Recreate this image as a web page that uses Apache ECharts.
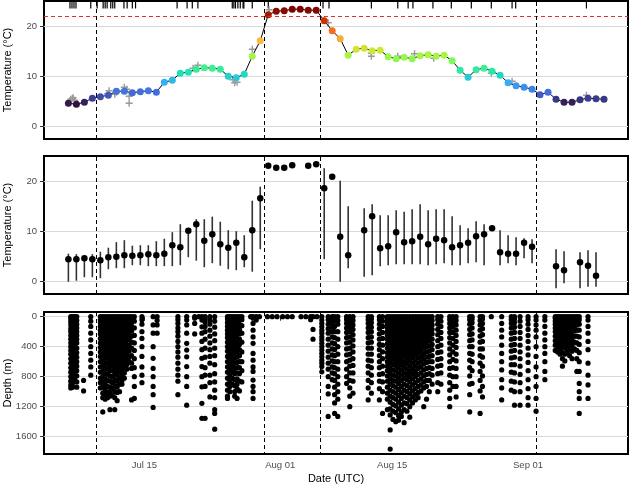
<!DOCTYPE html>
<html>
<head>
<meta charset="utf-8">
<script src="https://cdn.jsdelivr.net/npm/echarts@6/dist/echarts.min.js"></script>
<style>
html, body { margin: 0; padding: 0; background: #fff; }
#chart { width: 631px; height: 485px; }
</style>
</head>
<body>
<div id="chart"></div>
<script>
// all x values are days since Jul 01 00:00 UTC
var tickDays = [14, 31, 45, 62];
var tickLabels = ['Jul 15', 'Aug 01', 'Aug 15', 'Sep 01'];
var eventDays = [8, 29, 36, 63];
var thresholdTemp = 22;
var tempTicks = [0, 10, 20];
var depthTicks = [0, 400, 800, 1200, 1600];

// top panel: smoothed daily temperature
var dailyDays = [4.5, 5.5, 6.5, 7.5, 8.5, 9.5, 10.5, 11.5, 12.5, 13.5, 14.5, 15.5, 16.5, 17.5, 18.5, 19.5, 20.5,
  21.5, 22.5, 23.5, 24.5, 25.5, 26.5, 27.5, 28.5, 29.5, 30.5, 31.5, 32.5, 33.5, 34.5, 35.5, 36.5, 37.5, 38.5,
  39.5, 40.5, 41.5, 42.5, 43.5, 44.5, 45.5, 46.5, 47.5, 48.5, 49.5, 50.5, 51.5, 52.5, 53.5, 54.5, 55.5, 56.5,
  57.5, 58.5, 59.5, 60.5, 61.5, 62.5, 63.5, 64.5, 65.5, 66.5, 67.5, 68.5, 69.5, 70.5, 71.5];
var dailyTemp = [4.7, 4.5, 4.9, 5.7, 6.0, 6.3, 7.1, 7.1, 6.8, 7.0, 7.2, 6.9, 8.9, 9.3, 10.7, 10.9, 11.5,
  11.8, 11.7, 11.5, 10.1, 9.8, 10.5, 14.1, 17.2, 22.4, 23.1, 23.2, 23.5, 23.5, 23.3, 23.3, 21.2, 19.2, 17.6,
  14.3, 15.5, 15.7, 15.2, 15.3, 14.0, 13.6, 13.9, 13.6, 14.2, 14.4, 14.1, 14.3, 13.2, 11.3, 9.9, 11.4, 11.7,
  11.1, 10.3, 8.8, 8.2, 7.9, 7.5, 6.4, 6.9, 5.5, 4.9, 4.9, 5.4, 5.7, 5.6, 5.5];

// top panel: raw observations (grey crosses)
var obsDays = [4.8, 5.0, 5.1, 5.3, 9.4, 9.6, 10.3, 10.5, 11.5, 11.8, 12.1, 12.1, 20.1, 20.7, 25.1, 25.3,
  25.4, 25.6, 27.5, 29.6, 36.5, 37.0, 42.4, 42.4, 45.7, 47.8, 50.2, 57.4, 60.0, 69.3];
var obsTemp = [5.5, 5.7, 5.8, 5.3, 6.6, 7.2, 6.5, 6.9, 7.9, 7.5, 6.1, 4.7, 11.7, 12.3, 9.4, 8.8,
  9.7, 8.9, 15.5, 23.4, 21.3, 20.8, 14.7, 14.1, 14.1, 14.6, 13.7, 10.7, 9.1, 6.3];

// top panel: rug of surface fixes
var rugDays = [4.7, 4.95, 5.2, 5.45, 7.3, 8.1, 8.85, 9.1, 9.35, 9.8, 10.05, 10.3, 11.45, 11.85, 12.5, 12.9,
  18.1, 19.35, 20.0, 20.7, 25.0, 25.2, 25.4, 25.7, 26.0, 26.35, 26.45, 27.5, 29.5, 36.35, 37.1, 42.4,
  45.7, 47.0, 47.6, 50.1, 52.4, 54.9, 57.4, 60.0, 60.45, 69.3];

// middle panel: daily mean temperature and range
var meanDays = [4.5, 5.5, 6.5, 7.5, 8.5, 9.5, 10.5, 11.5, 12.5, 13.5, 14.5, 15.5, 16.5, 17.5, 18.5, 19.5,
  20.5, 21.5, 22.5, 23.5, 24.5, 25.5, 26.5, 27.5, 28.5, 29.5, 30.5, 31.5, 32.5, 34.5, 35.5, 36.5, 37.5,
  38.5, 39.5, 41.5, 42.5, 43.5, 44.5, 45.5, 46.5, 47.5, 48.5, 49.5, 50.5, 51.5, 52.5, 53.5, 54.5, 55.5,
  56.5, 57.5, 58.5, 59.5, 60.5, 61.5, 62.5, 65.5, 66.5, 68.5, 69.5, 70.5];
var meanTemp = [4.5, 4.5, 4.7, 4.5, 4.3, 4.9, 5.0, 5.3, 5.2, 5.3, 5.5, 5.3, 5.6, 7.3, 6.9, 10.2,
  11.5, 8.2, 9.5, 7.5, 6.8, 7.8, 4.9, 10.3, 16.7, 23.2, 22.8, 22.8, 23.3, 23.2, 23.5, 18.7, 21.0,
  9.0, 5.3, 10.3, 13.1, 6.7, 7.1, 9.9, 7.9, 8.1, 9.0, 7.5, 8.6, 8.3, 6.9, 7.3, 7.8, 9.1,
  9.5, 10.7, 5.9, 5.6, 5.6, 7.8, 7.0, 3.1, 2.3, 3.9, 3.2, 1.2];
var minTemp = [0.0, 0.2, 0.9, 0.9, 0.7, 2.5, 2.7, 2.7, 3.3, 3.3, 3.1, 3.1, 3.1, 3.1, 3.3, 4.9,
  4.2, 2.9, 3.7, 3.2, 2.5, 2.3, 2.9, 2.0, 6.5, null, null, null, null, null, null, 4.5, null,
  0.0, 2.7, 1.0, 1.3, 3.1, 3.3, 3.5, 3.5, 3.5, 3.5, 3.3, 3.5, 3.7, 3.3, 3.3, 3.7, 3.9,
  3.3, null, 3.3, 3.7, 3.3, 4.7, 3.7, -1.3, -0.3, -1.3, -1.0, -1.0];
var maxTemp = [5.6, 5.5, 5.0, 5.5, 6.0, 6.8, 7.9, 8.3, 7.2, 7.3, 7.3, 8.1, 8.6, 9.9, 11.5, 10.5,
  12.5, 12.5, 13.0, 12.0, 10.3, 10.1, 9.3, 16.2, 19.0, null, null, null, null, null, null, 22.7, null,
  20.2, 15.1, 14.7, 15.5, 13.3, 13.3, 14.3, 14.0, 14.5, 15.5, 14.3, 14.5, 14.5, 13.1, 11.3, 10.7, 12.1,
  11.5, null, 10.3, 9.3, 8.9, 8.7, 8.5, 6.5, 6.1, 5.9, 6.3, 5.9];

// bottom panel: depth records, grouped by dive
var diveDays = [4.8, 5.05, 5.3, 5.55, 6.4, 7.3,
  8.5, 8.8, 9.1, 9.4, 9.7, 10.0, 10.3, 10.6, 10.9, 11.2, 11.5, 11.8, 12.1, 12.4, 12.75,
  13.7, 15.1, 15.6, 18.2, 19.3, 20.3, 20.8, 21.2, 21.6, 22.2, 22.8,
  24.4, 24.7, 25.0, 25.3, 25.6, 25.9, 26.2, 27.3, 27.6, 28.0, 28.4,
  29.4, 30.0, 30.6, 31.3, 31.9, 32.5, 33.6, 34.2, 34.8, 35.1, 35.6,
  36.2, 37.0, 37.5, 37.8, 38.2, 39.3, 39.7, 40.1, 42.0, 42.4, 43.4, 43.8,
  44.4, 44.75, 45.1, 45.45, 45.8, 46.15, 46.5, 46.85, 47.2, 47.55, 47.9, 48.25, 48.6, 48.95, 49.3, 49.65, 50.0,
  50.7, 51.1, 52.2, 52.6, 53.0, 54.7, 55.0, 56.0, 56.3, 57.4, 58.7, 59.9, 60.3, 61.0, 62.0, 63.0, 64.1,
  65.4, 65.7, 66.0, 66.3, 66.6, 66.9, 67.2, 67.5, 67.8, 68.1, 68.4, 69.5];
var diveDepths = [
  [0, 30, 70, 110, 160, 200, 250, 300, 350, 400, 450, 500, 560, 620, 680, 740, 800, 860, 910, 950],
  [0, 40, 90, 140, 190, 240, 290, 340, 390, 440, 490, 540, 600, 650, 700, 760, 820, 880, 940],
  [0, 20, 60, 100, 150, 200, 260, 320, 380, 440, 500, 560, 620, 680, 740, 800, 850],
  [0, 50, 100, 150, 200, 250, 300, 350, 420, 480, 540, 600, 660, 720, 790, 870, 940],
  [850, 990],
  [0, 60, 130, 220, 310, 400, 490, 580, 670, 780],
  [0, 40, 80, 130, 180, 230, 290, 350, 410, 470, 530, 600, 670, 740, 820, 880, 950],
  [0, 30, 70, 120, 170, 220, 280, 340, 400, 460, 520, 590, 660, 730, 800, 870, 940, 1020, 1080, 1270],
  [0, 50, 100, 150, 200, 250, 310, 370, 430, 490, 550, 620, 690, 760, 830, 900, 970, 1050, 1100],
  [0, 20, 60, 110, 160, 210, 260, 320, 380, 440, 500, 560, 630, 700, 770, 850, 930, 1010, 1080],
  [0, 40, 90, 140, 190, 240, 300, 360, 420, 480, 540, 600, 660, 720, 790, 860, 940, 1000, 1060, 1240],
  [0, 30, 80, 130, 180, 230, 280, 340, 400, 460, 520, 580, 650, 720, 800, 880, 960, 1050],
  [0, 50, 100, 150, 200, 260, 320, 380, 440, 500, 560, 620, 690, 760, 840, 920, 1000, 1080, 1240],
  [0, 20, 70, 120, 170, 220, 270, 330, 390, 450, 510, 570, 640, 710, 780, 860, 940, 1010, 1120],
  [0, 40, 90, 140, 190, 240, 290, 350, 410, 470, 530, 600, 670, 740, 820, 900, 1000],
  [0, 30, 80, 130, 180, 230, 280, 330, 390, 450, 510, 570, 640, 710, 780, 850, 900],
  [0, 50, 100, 150, 200, 250, 300, 360, 420, 480, 540, 610, 680, 750, 820],
  [0, 20, 60, 110, 160, 210, 260, 310, 370, 430, 500, 570, 640, 700],
  [0, 40, 90, 140, 190, 240, 300, 380, 460, 540, 600],
  [0, 30, 80, 130, 190, 260, 340, 420, 520, 620, 690, 1110],
  [0, 60, 150, 250, 350, 450, 560, 680, 800, 930, 1090],
  [0, 40, 100, 200, 290, 400, 530, 670, 780, 880],
  [0, 110, 220, 400, 555, 690, 800, 930, 1040, 1210],
  [0, 50, 110, 220],
  [0, 40, 90, 150, 200, 260, 330, 400, 470, 540, 620, 700, 780, 860, 1040],
  [0, 45, 110, 220, 355, 445, 535, 665, 800, 930, 1180],
  [0, 20, 90, 230],
  [0],
  [0, 45, 135, 220, 330, 440, 555, 665, 800, 935, 1155, 1355],
  [0, 30, 70, 130, 200, 300, 420, 540, 680, 780, 930, 1355],
  [0, 45, 100, 180, 260, 350, 440, 530, 620, 780, 880, 1070],
  [0, 60, 140, 230, 320, 420, 520, 640, 760, 870, 980, 1080, 1240, 1290, 1500],
  [0, 30, 80, 130, 180, 230, 280, 340, 400, 460, 530, 600, 670, 740, 820, 900, 980, 1060, 1090],
  [0, 50, 100, 150, 200, 250, 310, 370, 430, 490, 560, 630, 700, 770, 850, 930, 1000],
  [0, 20, 70, 120, 170, 220, 270, 330, 390, 450, 520, 590, 660, 740, 820, 900],
  [0, 40, 90, 140, 190, 240, 300, 360, 420, 480, 550, 620, 690, 760, 840, 920, 1000, 1060],
  [0, 30, 80, 130, 180, 230, 290, 350, 410, 470, 540, 610, 680, 750, 830, 900, 960, 1090],
  [0, 50, 110, 170, 230, 300, 370, 440, 520, 600, 680, 760, 860, 990],
  [0, 40, 120, 220, 340, 470, 600, 720, 870],
  [0],
  [0, 20, 90, 180, 270, 355, 490, 580, 670, 730, 845, 930, 1000, 1090],
  [0, 45],
  [0],
  [0], [0], [0], [0], [0], [0], [0], [0], [0, 40], [0, 170, 300], [0],
  [0, 45, 90, 135, 180, 220, 270, 310, 355, 400, 445, 490, 535, 580, 620, 665, 735],
  [0, 40, 100, 160, 220, 300, 380, 460, 540, 620, 700, 800, 930, 1030, 1330],
  [0, 30, 80, 140, 200, 270, 350, 430, 510, 590, 670, 750, 840],
  [0, 60, 130, 200, 280, 360, 440, 520, 600, 680, 760, 850, 940, 1040, 1150, 1290],
  [0, 50, 100, 200, 300, 400, 500, 600, 700, 800, 900, 1000, 1100, 1330],
  [0, 40, 90, 150, 210, 280, 350, 430, 510, 600, 700, 800, 890],
  [0, 30, 80, 140, 200, 270, 340, 420, 500, 580, 660, 750, 850, 950, 1060, 1200],
  [0, 50, 110, 170, 240, 310, 390, 470, 560, 650, 750, 860, 1020],
  [0, 40, 90, 150, 210, 280, 350, 420, 500, 580, 660, 750, 850, 950, 1110],
  [0, 30, 80, 140, 200, 270, 340, 420, 500, 590, 680, 780, 880, 1020],
  [0, 40, 100, 160, 230, 300, 370, 440, 520, 600, 680, 770, 860, 960, 1110],
  [0, 60, 130, 210, 290, 380, 470, 560, 660, 760, 870, 1000, 1290],
  [0, 20, 60, 100, 150, 200, 250, 300, 360, 420, 480, 540, 600, 660, 720, 790, 860, 940, 1020, 1100, 1240],
  [0, 30, 70, 110, 160, 210, 260, 320, 380, 440, 500, 560, 620, 690, 760, 830, 900, 980, 1060, 1140, 1230, 1310, 1510, 1765],
  [0, 40, 80, 120, 170, 220, 270, 330, 390, 450, 510, 570, 640, 710, 780, 850, 920, 1000, 1080, 1170, 1260, 1370],
  [0, 20, 60, 100, 140, 190, 240, 290, 350, 410, 470, 530, 590, 650, 720, 790, 860, 940, 1020, 1100, 1190, 1280, 1400],
  [0, 30, 70, 110, 160, 210, 260, 310, 370, 430, 490, 550, 610, 680, 750, 820, 890, 970, 1050, 1140, 1230, 1320, 1380],
  [0, 40, 80, 130, 180, 230, 280, 340, 400, 460, 520, 580, 640, 710, 780, 850, 930, 1010, 1090, 1180, 1270, 1330],
  [0, 20, 60, 100, 150, 200, 250, 300, 360, 420, 480, 540, 610, 680, 750, 820, 900, 980, 1060, 1150, 1240, 1413],
  [0, 30, 70, 120, 170, 220, 270, 330, 390, 450, 510, 570, 630, 700, 770, 840, 920, 1000, 1080, 1160, 1260],
  [0, 40, 90, 140, 190, 240, 290, 350, 410, 470, 530, 590, 660, 730, 800, 870, 950, 1030, 1110, 1200, 1340],
  [0, 20, 60, 110, 160, 210, 260, 310, 370, 430, 490, 550, 620, 690, 760, 830, 910, 990, 1070, 1150],
  [0, 30, 80, 130, 180, 230, 280, 340, 400, 460, 520, 590, 660, 730, 800, 880, 960, 1040, 1110],
  [0, 40, 90, 140, 190, 240, 300, 360, 420, 480, 550, 620, 690, 770, 850, 930, 1010, 1080],
  [0, 20, 70, 120, 170, 220, 280, 340, 400, 460, 530, 600, 670, 750, 830, 910, 990],
  [0, 30, 80, 130, 180, 240, 300, 360, 420, 490, 560, 630, 710, 790, 870, 950, 1200],
  [0, 40, 100, 160, 220, 280, 340, 400, 470, 540, 610, 690, 770, 850, 930, 1100],
  [0, 20, 80, 140, 200, 260, 320, 390, 460, 530, 600, 680, 760, 850, 1000],
  [0, 50, 110, 170, 230, 300, 370, 440, 520, 600, 690, 780, 900],
  [0, 40, 100, 170, 240, 320, 400, 480, 570, 660, 760, 880, 1000],
  [0, 60, 130, 210, 290, 380, 470, 560, 650, 750, 900],
  [0, 40, 90, 150, 210, 280, 350, 430, 510, 600, 690, 780, 880, 980, 1090, 1200],
  [0, 30, 80, 140, 210, 290, 380, 470, 570, 680, 800, 930],
  [0, 50, 110, 180, 250, 330, 410, 500, 590, 690, 800, 930, 1070],
  [0, 40, 100, 170, 240, 320, 400, 490, 580, 680, 790, 900, 1040, 1270],
  [0, 30, 80, 150, 230, 310, 400, 500, 600, 720, 890],
  [0, 50, 110, 180, 260, 340, 430, 520, 620, 730, 850, 990, 1290],
  [0, 30, 90, 160, 240, 330, 430, 540, 660, 790, 930, 1070],
  [0],
  [0, 90, 180, 270, 380, 490, 600, 710, 840, 950, 1110],
  [0, 40, 90, 150, 220, 300, 380, 460, 550, 640, 740, 860, 980],
  [0, 30, 80, 140, 210, 290, 370, 450, 540, 640, 750, 870, 1000, 1180],
  [0, 60, 130, 210, 290, 380, 470, 560, 660, 770, 880, 1000, 1180],
  [0, 40, 100, 170, 250, 330, 420, 510, 610, 720, 840, 960, 1080, 1180],
  [0, 45, 110, 180, 270, 400, 530, 670, 800, 930, 1090, 1260],
  [0, 45, 130, 220, 310, 400, 490, 600, 730, 840],
  [0, 20, 60, 100, 150, 200, 260, 320, 380, 450],
  [0, 40, 80, 120, 170, 220, 280, 340, 400, 470],
  [0, 20, 60, 100, 150, 200, 250, 310, 370, 430, 500],
  [0, 30, 70, 110, 160, 210, 270, 330, 400, 480, 560, 660],
  [0, 40, 80, 130, 180, 230, 290, 350, 420, 500, 590],
  [0, 20, 60, 100, 150, 200, 260, 320, 390, 470],
  [0, 30, 70, 120, 170, 220, 280, 350, 430, 520],
  [0, 40, 90, 140, 190, 250, 310, 380, 460, 560],
  [0, 20, 70, 130, 190, 260, 340, 430],
  [0, 50, 110, 180, 260, 350, 450, 560, 730],
  [0, 40, 100, 180, 270, 370, 480, 600, 730, 890, 1000, 1090, 1290],
  [0, 45, 130, 220, 330, 440, 620, 780, 910, 1090]
];

var turbo = ['#30123B', '#4662D7', '#36AAF9', '#1AE4B6', '#72FE5E', '#C7EF34', '#FABA39', '#F66B19', '#CB2A04', '#7A0403'];
var font = 'Liberation Sans';

// build series data
var dailyData = dailyDays.map(function (d, i) { return [d, dailyTemp[i]]; });
var obsData = obsDays.map(function (d, i) { return [d, obsTemp[i]]; });
var rugData = rugDays.map(function (d) { return [d, 0]; });
var meanData = meanDays.map(function (d, i) { return [d, meanTemp[i]]; });
var rangeData = meanDays.map(function (d, i) { return [d, meanTemp[i], minTemp[i], maxTemp[i]]; });
var depthData = [];
diveDays.forEach(function (d, i) {
  diveDepths[i].forEach(function (z) { depthData.push([d, z]); });
});

var eventLines = {
  silent: true,
  symbol: 'none',
  label: { show: false },
  lineStyle: { color: '#000', width: 1, type: [4, 3] },
  data: eventDays.map(function (d) { return { xAxis: d }; })
};

function xAxis(gridIndex, labels) {
  return {
    type: 'value', gridIndex: gridIndex, min: 1.45, max: 74.5,
    axisLine: { show: false },
    splitLine: { show: false },
    axisTick: { show: labels, length: 4, lineStyle: { color: '#333' }, customValues: tickDays },
    axisLabel: {
      show: labels, margin: 6, color: '#4d4d4d', fontSize: 9.5, fontFamily: font,
      customValues: tickDays,
      formatter: function (v) { return tickLabels[tickDays.indexOf(v)]; }
    },
    name: labels ? 'Date (UTC)' : '',
    nameLocation: 'middle', nameGap: 19, nameMoveOverlap: false,
    nameTextStyle: { color: '#000', fontSize: 11, fontFamily: font }
  };
}

function yAxis(gridIndex, min, max, ticks, name, inverse) {
  return {
    type: 'value', gridIndex: gridIndex, min: min, max: max, inverse: !!inverse,
    axisLine: { show: false },
    axisTick: { show: true, length: 4, lineStyle: { color: '#333' }, customValues: ticks },
    axisLabel: {
      margin: 7, color: '#4d4d4d', fontSize: 9.5, fontFamily: font, customValues: ticks,
      formatter: function (v) { return String(v); }
    },
    splitLine: { show: true, lineStyle: { color: '#d9d9d9', width: 1 } },
    name: name, nameLocation: 'middle', nameGap: 31, nameMoveOverlap: false,
    nameTextStyle: { color: '#000', fontSize: 11, fontFamily: font }
  };
}

var gridStyle = { show: true, borderColor: '#000', borderWidth: 2, backgroundColor: '#fff', containLabel: false, outerBoundsMode: 'none' };

var option = {
  animation: false,
  textStyle: { fontFamily: font },
  grid: [
    Object.assign({ left: 44, top: 1, width: 584, height: 138 }, gridStyle),
    Object.assign({ left: 44, top: 156, width: 584, height: 138 }, gridStyle),
    Object.assign({ left: 44, top: 312, width: 584, height: 142 }, gridStyle)
  ],
  xAxis: [xAxis(0, false), xAxis(1, false), xAxis(2, true)],
  yAxis: [
    yAxis(0, -2.46, 25.14, tempTicks, 'Temperature (°C)'),
    yAxis(1, -2.46, 25.14, tempTicks, 'Temperature (°C)'),
    yAxis(2, -63, 1831, depthTicks, 'Depth (m)', true)
  ],
  visualMap: {
    show: false, type: 'continuous', seriesIndex: 3, dimension: 1,
    min: Math.min.apply(null, dailyTemp), max: Math.max.apply(null, dailyTemp),
    inRange: { color: turbo, opacity: 1 }
  },
  series: [
    {
      type: 'custom', xAxisIndex: 0, yAxisIndex: 0, data: rugData, silent: true,
      renderItem: function (params, api) {
        var x = api.coord([api.value(0), 0])[0];
        var top = params.coordSys.y;
        return { type: 'line', shape: { x1: x, y1: top, x2: x, y2: top + 7.5 }, style: { stroke: '#000', lineWidth: 1.2 } };
      }
    },
    {
      type: 'scatter', xAxisIndex: 0, yAxisIndex: 0, data: obsData,
      symbol: 'path://M4,0h2v4h4v2h-4v4h-2v-4h-4v-2h4z', symbolSize: 7,
      itemStyle: { color: '#9a9a9a', opacity: 1, borderWidth: 0 }, z: 2
    },
    {
      type: 'line', xAxisIndex: 0, yAxisIndex: 0, data: dailyData, showSymbol: false,
      lineStyle: { color: '#000', width: 1 }, z: 3,
      markLine: {
        silent: true, symbol: 'none', label: { show: false },
        data: [
          { yAxis: thresholdTemp, lineStyle: { color: '#e8302a', width: 1.2, type: [4, 3] } }
        ].concat(eventDays.map(function (d) { return { xAxis: d, lineStyle: { color: '#000', width: 1, type: [4, 3] } }; }))
      }
    },
    {
      type: 'scatter', xAxisIndex: 0, yAxisIndex: 0, data: dailyData, symbolSize: 7,
      itemStyle: { opacity: 1, borderWidth: 0 }, z: 4
    },
    {
      type: 'custom', xAxisIndex: 1, yAxisIndex: 1, data: rangeData,
      encode: { x: 0, y: [2, 3] },
      renderItem: function (params, api) {
        var lo = api.value(2), hi = api.value(3);
        if (isNaN(lo) || isNaN(hi)) return null;
        var p1 = api.coord([api.value(0), lo]);
        var p2 = api.coord([api.value(0), hi]);
        return { type: 'line', shape: { x1: p1[0], y1: p1[1], x2: p2[0], y2: p2[1] }, style: { stroke: '#333', lineWidth: 1.6 } };
      },
      markLine: eventLines
    },
    {
      type: 'scatter', xAxisIndex: 1, yAxisIndex: 1, data: meanData, symbolSize: 6.5,
      itemStyle: { color: '#000', opacity: 1, borderWidth: 0 }, z: 4
    },
    {
      type: 'scatter', xAxisIndex: 2, yAxisIndex: 2, data: depthData, symbolSize: 5.2,
      itemStyle: { color: '#000', opacity: 1, borderWidth: 0 }, progressive: 0, large: false,
      markLine: eventLines
    }
  ]
};

var chart = echarts.init(document.getElementById('chart'), null, { renderer: 'canvas' });
chart.setOption(option);
</script>
</body>
</html>
